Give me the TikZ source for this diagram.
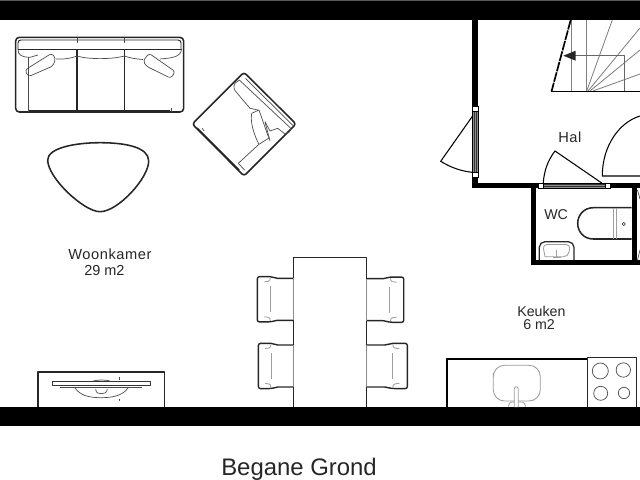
\documentclass[tikz,border=0pt]{standalone}
\usepackage{fontspec}
\setmainfont{Liberation Sans}
\newfontfamily\spacedfont[LetterSpace=4]{Liberation Sans}
\usetikzlibrary{calc, positioning}
\tikzset{
  wall/.style={fill=black, draw=none},
  furn/.style={draw=black!85, line width=0.9pt, line join=round},
  fine/.style={draw=black!70, line width=0.5pt, line join=round},
  pale/.style={draw=black!38, line width=0.6pt, line join=round},
  leaf/.style={draw=black, line width=0.75pt},
  jamb/.style={draw=black, fill=white, line width=0.6pt},
  doorbars/.style={draw=black, fill=black!45, line width=0.5pt},
  room/.style={inner sep=0pt, anchor=base west, font=\spacedfont\fontsize{10.4}{12}\selectfont, text=black!85},
  smallroom/.style={inner sep=0pt, anchor=base west, font=\fontsize{10.1}{12}\selectfont, text=black!85},
  caption/.style={inner sep=0pt, anchor=base west, font=\fontsize{17}{20}\selectfont, text=black!85}
}
\begin{document}
\begin{tikzpicture}[x=0.025cm, y=-0.025cm]
  \useasboundingbox (0,0) rectangle (640,480);
  % Stairs
  \draw[pale, draw=black!50] (571.3,20) -- (571.3,91);
  \draw[pale, draw=black!50] (586.3,20) -- (586.3,91);
  \draw[pale, draw=black!50] (586.7,91) -- (612.3,20);
  \draw[pale, draw=black!50] (588,91) -- (640,28);
  \draw[pale, draw=black!50] (590,91) -- (640,50);
  \draw[pale, draw=black!50] (593,91) -- (640,74);
  \draw[black, line width=1.2pt, dash pattern=on 7pt off 0.7pt] (570.7,20) -- (551.5,91.5);
  \draw[black, line width=1pt] (551,91.5) -- (640,91.5);
  \draw[pale, draw=black!60] (575,55.7) -- (624.3,55.7) -- (624.3,91);
  \fill[black!85] (563.3,55.7) -- (575.7,50.7) -- (575.7,60.7) -- cycle;
  % Round shape in the hall
  \draw[leaf] (640,116) .. controls (620,122) and (602.3,145) .. (602.3,176) -- (640,176);
  % Walls
  \fill[wall] (0,0) rectangle (640,20);
  \fill[black!65] (0,0) rectangle (640,0.8);
  \fill[wall] (0,406.7) rectangle (640,426);
  \fill[wall] (472.3,20) rectangle (478.3,108);
  \fill[wall] (472.3,176) rectangle (478.3,188);
  \fill[wall] (472.3,182.7) rectangle (540,188);
  \fill[wall] (606,182.7) rectangle (640,188);
  \fill[wall] (530.7,182.7) rectangle (535.7,265);
  \fill[wall] (631.7,182.7) rectangle (636.7,265);
  \fill[wall] (530.7,260) rectangle (640,265);
  % Door on the left
  \draw[leaf] (473.3,115) -- (440.7,161.3) .. controls (450,167) and (460,171) .. (472,172.3);
  \draw[doorbars] (472.8,111) rectangle (478,173);
  \draw[black!80, line width=0.4pt] (474.5,111) -- (474.5,173);
  \draw[black!80, line width=0.4pt] (476.2,111) -- (476.2,173);
  \draw[jamb] (472,106.7) rectangle (478.3,111.7);
  \draw[jamb] (472,172.7) rectangle (478.3,177.7);
  % Door of the WC
  \draw[leaf] (601.7,183) -- (555,151) .. controls (548,160) and (544,171) .. (543.3,183);
  \draw[doorbars] (542,183) rectangle (606,188);
  \draw[black!80, line width=0.4pt] (542,184.7) -- (606,184.7);
  \draw[black!80, line width=0.4pt] (542,186.3) -- (606,186.3);
  \draw[jamb] (538.5,183) rectangle (543,188);
  \draw[jamb] (605,183) rectangle (610,188);
  % Next to the WC
  \draw[fine] (637.5,190) -- (640,199);
  \draw[fine] (640,250) -- (637.5,260);
  % Toilet
  \draw[furn, line width=1.1pt] (631.7,207.7) -- (593.3,207.7) .. controls (584,207.7) and (577.7,215) .. (577.7,223.3) .. controls (577.7,232) and (584,239) .. (593.3,239) -- (631.7,239);
  \draw[pale] (613.3,207.7) -- (613.3,239);
  \draw[pale] (616.7,207.7) -- (616.7,239);
  \draw[fine] (623.7,224) circle (1.6);
  % Basin of the WC
  \draw[furn] (539.3,260) -- (539.3,247) [rounded corners=4pt] -- (539.3,241.7) -- (574,241.7) -- (574,260);
  \draw[pale] (556,256.7) -- (545,256.7) [rounded corners=3pt] -- (542.7,244.5) -- (570.5,244.5) -- (568,256.7) -- (556,256.7);
  \draw[pale] (556.7,250) -- (556.7,257);
  \draw[pale] (552.7,257) -- (560.7,257);
  % Sofa
  \draw[furn, rounded corners=2.5pt, line width=1.1pt] (15.7,37.4) rectangle (183.6,112);
  \draw[furn, rounded corners=2pt, line width=0.7pt] (18,49.3) -- (18,40) -- (181,40) -- (181,49.3);
  \draw[furn] (18,49.3) -- (181.5,49.3);
  \draw[furn] (77,49.3) -- (77,112);
  \draw[furn] (124.3,49.3) -- (124.3,112);
  \draw[fine] (77,38) -- (77,43);
  \draw[fine] (124.3,38) -- (124.3,43);
  \draw[fine] (28.7,57) -- (28.7,112);
  \draw[fine] (171.7,108) -- (171.7,112);
  \draw[furn, line width=1.3pt] (28.7,111.4) -- (170,111.4);
  % Seat cushions
  \draw[fine] (18,49.3) .. controls (18,55) and (21,57) .. (30,57.3) -- (38,55);
  \draw[fine] (56,59) .. controls (65,59.5) and (72,58) .. (77,56) .. controls (88,59.5) and (112,59.5) .. (124.3,56) .. controls (130,58) and (136,59) .. (143,59.5);
  \draw[fine] (160,59) .. controls (172,58) and (181,57) .. (181.5,49.3);
  % Pillows on the sofa
  \draw[fine, rounded corners=2pt] (25,70) -- (51.7,53.3) -- (55.7,58.3) -- (53,66) -- (28.3,76.7) -- cycle;
  \draw[fine, rounded corners=2pt] (149,53.3) -- (175.3,71.7) -- (170.7,78.3) -- (146,66) -- (143.3,60.7) -- cycle;
  % Armchair
  \draw[furn, rounded corners=2pt, line width=1.1pt] (244,72.3) -- (296,124) -- (244,176) -- (192.3,124) -- cycle;
  \draw[fine] (239.3,80) -- (291,128.5);
  \draw[fine] (245.5,78.5) -- (293,125.5);
  \draw[fine] (235,83.3) .. controls (233,87) and (234,90) .. (237,93) -- (250,108.3) -- (258,110);
  \draw[fine] (239.3,80) -- (235,83.3);
  \draw[fine] (265,121.7) -- (270,131) -- (277.7,128.3) -- (285,134) .. controls (288,134) and (290,132) .. (291,128.5);
  \draw[fine] (265,121.7) -- (270,141);
  \draw[fine] (251.7,113.3) -- (259,110) -- (267.7,135) -- (269,138) -- (259,144.3) .. controls (254,135) and (250,122) .. (251.7,113.3);
  \draw[fine] (238.3,163.3) -- (259,144.3);
  \draw[fine] (238.3,163.3) -- (244.5,170);
  \draw[fine] (202.3,128.3) -- (204,131);
  \draw[furn, line width=1.2pt] (197,128) -- (239,170);
  % Rounded table
  \draw[furn, line width=1.1pt] (47.7,160) .. controls (47.7,148) and (75,142.7) .. (100,142.7) .. controls (125,142.7) and (148.7,147) .. (148.7,161) .. controls (148.7,178) and (118,211.7) .. (100,211.7) .. controls (84,211.7) and (47.7,178) .. (47.7,160) -- cycle;
  % Television
  \draw[furn, line width=1.1pt] (38,407) -- (38,372) -- (164.3,372) -- (164.3,407);
  \draw[fine, draw=black!80, fill=white] (52,381) rectangle (150,385.7);
  \draw[fine] (60,387.5) -- (141.7,387.5);
  \draw[fine] (75,388) .. controls (80,395) and (88,397.7) .. (101,397.7) .. controls (114,397.7) and (123,395) .. (128,388);
  \draw[fine] (95.7,389) .. controls (96,393) and (98,393.7) .. (101,393.7) .. controls (104,393.7) and (107,393) .. (107.3,389);
  \draw[fine] (93,381) .. controls (98,379.7) and (106,379.7) .. (110,381);
  \draw[fine] (119.3,376.7) -- (119.3,380);
  \draw[fine] (119.3,398.5) -- (119.3,401);
  % Chairs
  \foreach \cx/\cy/\cw in {293.3/299.3/-1, 293.3/366/-0.97, 366.7/299.7/1.03, 366.7/366/1.13}
  {
    \begin{scope}[shift={(\cx,\cy)}, xscale=\cw]
      \draw[furn, line width=1pt] (0,-21) -- (16,-21) -- (23,-22.6) [rounded corners=1.5pt] -- (36,-22.6) -- (36,22.6) -- (23,22.6) [sharp corners] -- (16,21) -- (0,21);
      \draw[pale] (22.5,-13) -- (22.5,13);
      \draw[pale] (23,-21.5) .. controls (23,-17.5) and (26,-17.5) .. (29,-17.5);
      \draw[pale] (23,21.5) .. controls (23,17.5) and (26,17.5) .. (29,17.5);
    \end{scope}
  }
  % Dining table
  \draw[furn, line width=1pt] (293.3,407) -- (293.3,257.3) -- (366.7,257.3) -- (366.7,407);
  \draw[pale, draw=black!45] (293.3,278.3) -- (293.3,320.3);
  \draw[pale, draw=black!45] (293.3,345) -- (293.3,387);
  \draw[pale, draw=black!45] (366.7,278.7) -- (366.7,320.7);
  \draw[pale, draw=black!45] (366.7,345) -- (366.7,387);
  % Kitchen counter
  \draw[black, line width=1.4pt] (447,407) -- (447,359) -- (587.7,359);
  \draw[pale, draw=black!40] (493.3,373) [rounded corners=8pt] -- (493.3,365.3) -- (540.3,365.3) -- (540.3,401) -- (493.3,401) -- (493.3,373);
  \draw[pale, fill=white, rounded corners=1.5pt] (514.3,407) -- (514.3,386.7) -- (518.3,386.7) -- (518.3,407);
  \draw[pale, rounded corners=1pt] (508.3,406.5) -- (510,402) -- (514.3,402);
  \draw[pale, rounded corners=1pt] (518.3,402) -- (524,402) -- (525.5,406.5);
  % Cooker
  \draw[furn, line width=1.1pt] (587.7,407) -- (587.7,357.3) -- (636.7,357.3) -- (636.7,407);
  \draw[fine] (600.3,371) circle (8);
  \draw[fine] (623.3,370) circle (7.2);
  \draw[fine] (600.7,393.3) circle (7);
  \draw[fine] (624,393) circle (5.7);
  % Labels
  \node[room] (woonkamer) at (68,259) {Woonkamer};
  \node[smallroom, font=\fontsize{10.3}{12}\selectfont] (woonarea) at (84,275) {29 m2};
  \node[room] (hal) at (558,142) {Hal};
  \node[smallroom] (wc) at (544,219) {WC};
  \node[smallroom] (keuken) at (517,316) {Keuken};
  \node[smallroom] (keukenarea) at (523,329.5) {6 m2};
  \node[caption] (title) at (221,475) {Begane Grond};
\end{tikzpicture}
\end{document}
